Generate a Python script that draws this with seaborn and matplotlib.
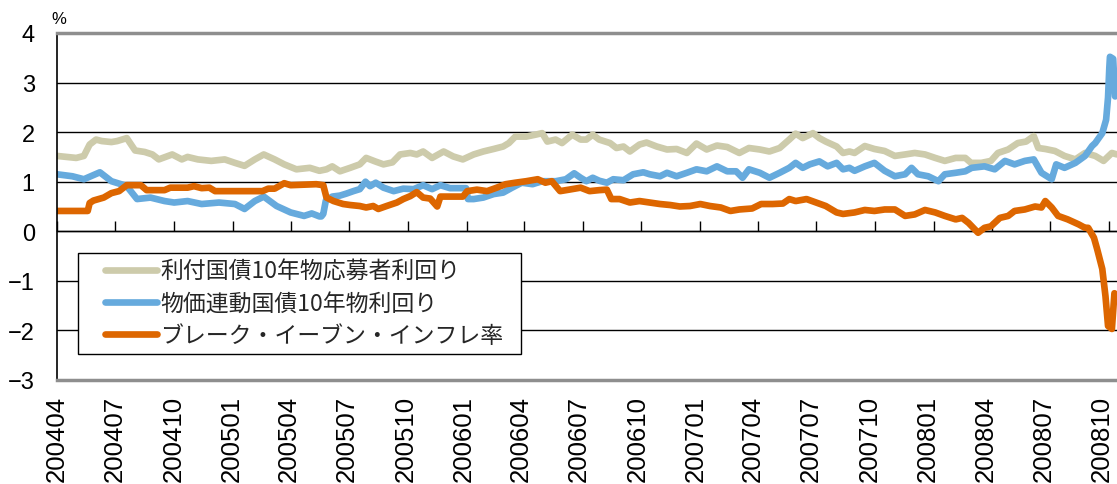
import matplotlib
matplotlib.use("Agg")
import matplotlib.pyplot as plt
import matplotlib.dates as mdates
from matplotlib.patches import Rectangle
from matplotlib.transforms import ScaledTranslation
import seaborn as sns
import pandas as pd

# ---------------- data ----------------
SERIES = ["利付国債10年物応募者利回り", "物価連動国債10年物利回り", "ブレーク・イーブン・インフレ率"]
COLORS = ["#CDCBAB", "#66AADD", "#DD6600"]

nominal_dates = [
    "2004-04-01", "2004-04-16", "2004-05-01", "2004-05-13", "2004-05-22", "2004-06-01", "2004-06-10",
    "2004-06-25", "2004-07-04", "2004-07-19", "2004-08-01", "2004-08-16", "2004-08-28", "2004-09-07",
    "2004-09-28", "2004-10-13", "2004-10-22", "2004-11-07", "2004-11-28", "2004-12-19", "2005-01-04",
    "2005-01-19", "2005-02-04", "2005-02-18", "2005-03-07", "2005-03-22", "2005-04-10", "2005-05-01",
    "2005-05-16", "2005-05-27", "2005-06-05", "2005-06-17", "2005-07-03", "2005-07-18", "2005-07-28",
    "2005-08-11", "2005-08-24", "2005-09-07", "2005-09-19", "2005-10-05", "2005-10-15", "2005-10-25",
    "2005-11-08", "2005-11-26", "2005-12-11", "2005-12-26", "2006-01-12", "2006-01-27", "2006-02-12",
    "2006-02-27", "2006-03-08", "2006-03-18", "2006-04-04", "2006-04-19", "2006-04-29", "2006-05-07",
    "2006-05-20", "2006-05-30", "2006-06-15", "2006-06-28", "2006-07-07", "2006-07-17", "2006-07-27",
    "2006-08-13", "2006-08-23", "2006-09-03", "2006-09-13", "2006-09-28", "2006-10-09", "2006-10-25",
    "2006-11-10", "2006-11-25", "2006-12-11", "2006-12-26", "2007-01-11", "2007-01-27", "2007-02-12",
    "2007-03-03", "2007-03-18", "2007-04-04", "2007-04-19", "2007-05-05", "2007-05-20", "2007-05-30",
    "2007-06-10", "2007-06-26", "2007-07-06", "2007-07-16", "2007-08-02", "2007-08-12", "2007-08-22",
    "2007-08-30", "2007-09-15", "2007-09-30", "2007-10-16", "2007-11-01", "2007-11-17", "2007-12-02",
    "2007-12-18", "2008-01-03", "2008-01-18", "2008-02-04", "2008-02-19", "2008-02-28", "2008-03-15",
    "2008-03-30", "2008-04-10", "2008-04-26", "2008-05-11", "2008-05-24", "2008-06-05", "2008-06-12",
    "2008-06-23", "2008-07-08", "2008-07-23", "2008-08-09", "2008-08-24", "2008-09-09", "2008-09-22",
    "2008-10-05", "2008-10-13",
]
nominal_yield = [
    1.52, 1.50, 1.48, 1.52, 1.75, 1.85, 1.82,
    1.80, 1.82, 1.88, 1.63, 1.60, 1.55, 1.45,
    1.55, 1.45, 1.50, 1.45, 1.42, 1.45, 1.38,
    1.32, 1.45, 1.55, 1.45, 1.35, 1.25, 1.28,
    1.22, 1.25, 1.31, 1.21, 1.28, 1.35, 1.48,
    1.41, 1.35, 1.39, 1.55, 1.58, 1.55, 1.61,
    1.48, 1.61, 1.51, 1.45, 1.55, 1.61, 1.66,
    1.71, 1.78, 1.91, 1.91, 1.95, 1.98, 1.81,
    1.85, 1.78, 1.95, 1.85, 1.85, 1.95, 1.85,
    1.78, 1.68, 1.71, 1.61, 1.75, 1.79, 1.71,
    1.65, 1.66, 1.58, 1.77, 1.65, 1.73, 1.70,
    1.58, 1.68, 1.65, 1.61, 1.68, 1.85, 1.97,
    1.88, 1.98, 1.88, 1.81, 1.71, 1.58, 1.61,
    1.58, 1.72, 1.66, 1.62, 1.52, 1.55, 1.58,
    1.55, 1.48, 1.42, 1.48, 1.48, 1.38, 1.38,
    1.42, 1.58, 1.65, 1.78, 1.81, 1.92, 1.68,
    1.66, 1.62, 1.52, 1.45, 1.58, 1.52, 1.42,
    1.58, 1.55,
]

linker_dates = [
    "2004-04-01", "2004-04-25", "2004-05-13", "2004-06-07", "2004-06-25", "2004-07-10", "2004-07-19",
    "2004-08-04", "2004-08-25", "2004-09-16", "2004-10-01", "2004-10-22", "2004-11-13", "2004-12-10",
    "2005-01-04", "2005-01-19", "2005-02-04", "2005-02-18", "2005-03-10", "2005-04-01", "2005-04-22",
    "2005-05-04", "2005-05-16", "2005-05-19", "2005-05-22", "2005-05-26", "2005-06-05", "2005-06-17",
    "2005-06-27", "2005-07-08", "2005-07-18", "2005-07-27", "2005-08-03", "2005-08-12", "2005-08-24",
    "2005-09-09", "2005-09-24", "2005-10-10", "2005-10-25", "2005-11-08", "2005-11-21", "2005-12-06",
    "2005-12-26", "2005-12-31", "2006-01-03", "2006-01-12", "2006-01-27", "2006-02-12", "2006-02-27",
    "2006-03-13", "2006-03-28", "2006-04-14", "2006-04-29", "2006-05-20", "2006-06-05", "2006-06-18",
    "2006-06-28", "2006-07-07", "2006-07-17", "2006-07-27", "2006-08-08", "2006-08-18", "2006-09-03",
    "2006-09-18", "2006-10-04", "2006-10-14", "2006-10-30", "2006-11-10", "2006-11-25", "2006-12-11",
    "2006-12-26", "2007-01-11", "2007-01-27", "2007-02-12", "2007-02-26", "2007-03-08", "2007-03-18",
    "2007-04-04", "2007-04-19", "2007-05-05", "2007-05-20", "2007-05-30", "2007-06-10", "2007-06-21",
    "2007-07-06", "2007-07-19", "2007-08-02", "2007-08-12", "2007-08-22", "2007-08-30", "2007-09-15",
    "2007-09-30", "2007-10-16", "2007-11-01", "2007-11-17", "2007-11-27", "2007-12-07", "2007-12-23",
    "2008-01-08", "2008-01-18", "2008-02-04", "2008-02-19", "2008-02-29", "2008-03-20", "2008-04-05",
    "2008-04-21", "2008-05-06", "2008-05-22", "2008-06-05", "2008-06-17", "2008-07-03", "2008-07-10",
    "2008-07-23", "2008-08-09", "2008-08-24", "2008-09-04", "2008-09-09", "2008-09-20", "2008-09-26",
    "2008-09-29", "2008-10-01", "2008-10-02", "2008-10-07", "2008-10-10", "2008-10-13",
]
linker_yield = [
    1.15, 1.11, 1.05, 1.19, 1.01, 0.95, 0.91,
    0.65, 0.68, 0.61, 0.58, 0.61, 0.55, 0.58,
    0.55, 0.45, 0.61, 0.70, 0.51, 0.38, 0.31,
    0.36, 0.30, 0.30, 0.35, 0.62, 0.70, 0.72,
    0.76, 0.81, 0.85, 1.00, 0.91, 0.98, 0.88,
    0.81, 0.86, 0.85, 0.93, 0.85, 0.93, 0.87,
    0.87, 0.87, 0.65, 0.65, 0.68, 0.75, 0.78,
    0.88, 0.98, 0.95, 1.01, 1.01, 1.05, 1.17,
    1.08, 1.01, 1.08, 1.02, 0.98, 1.05, 1.03,
    1.15, 1.19, 1.15, 1.11, 1.18, 1.11, 1.18,
    1.25, 1.21, 1.31, 1.21, 1.21, 1.08, 1.25,
    1.18, 1.08, 1.18, 1.28, 1.38, 1.28, 1.35,
    1.41, 1.31, 1.38, 1.25, 1.28, 1.22, 1.31,
    1.38, 1.22, 1.11, 1.15, 1.28, 1.15, 1.11,
    1.01, 1.15, 1.18, 1.21, 1.28, 1.31, 1.25,
    1.42, 1.35, 1.42, 1.45, 1.18, 1.05, 1.35,
    1.28, 1.38, 1.52, 1.72, 1.78, 1.98, 2.25,
    2.70, 3.30, 3.52, 3.48, 2.72, 2.80,
]

bei_dates = [
    "2004-04-01", "2004-05-19", "2004-05-22", "2004-05-28", "2004-06-13", "2004-06-25", "2004-07-07",
    "2004-07-19", "2004-08-10", "2004-08-19", "2004-09-16", "2004-09-25", "2004-10-22", "2004-11-01",
    "2004-11-13", "2004-11-25", "2004-12-04", "2005-02-16", "2005-02-25", "2005-03-07", "2005-03-22",
    "2005-04-01", "2005-05-11", "2005-05-22", "2005-05-27", "2005-06-07", "2005-06-22", "2005-07-03",
    "2005-07-18", "2005-07-28", "2005-08-08", "2005-08-16", "2005-08-29", "2005-09-14", "2005-09-24",
    "2005-10-05", "2005-10-15", "2005-10-25", "2005-11-05", "2005-11-16", "2005-11-21", "2005-12-26",
    "2006-01-02", "2006-01-17", "2006-02-02", "2006-02-17", "2006-03-03", "2006-03-18", "2006-04-04",
    "2006-04-22", "2006-05-04", "2006-05-14", "2006-05-27", "2006-06-10", "2006-06-28", "2006-07-12",
    "2006-07-27", "2006-08-08", "2006-08-15", "2006-08-28", "2006-09-13", "2006-09-28", "2006-10-14",
    "2006-10-30", "2006-11-15", "2006-11-30", "2006-12-16", "2007-01-01", "2007-01-16", "2007-02-02",
    "2007-02-17", "2007-03-03", "2007-03-23", "2007-04-06", "2007-04-24", "2007-05-10", "2007-05-20",
    "2007-05-30", "2007-06-16", "2007-07-01", "2007-07-16", "2007-08-02", "2007-08-12", "2007-08-30",
    "2007-09-15", "2007-09-30", "2007-10-16", "2007-11-01", "2007-11-17", "2007-12-02", "2007-12-18",
    "2008-01-03", "2008-01-18", "2008-02-04", "2008-02-14", "2008-02-24", "2008-03-10", "2008-03-20",
    "2008-03-30", "2008-04-13", "2008-04-26", "2008-05-06", "2008-05-22", "2008-06-07", "2008-06-17",
    "2008-06-23", "2008-07-03", "2008-07-13", "2008-07-28", "2008-08-14", "2008-08-24", "2008-08-29",
    "2008-09-07", "2008-09-12", "2008-09-20", "2008-09-25", "2008-09-29", "2008-10-05", "2008-10-09",
    "2008-10-13",
]
bei_rate = [
    0.41, 0.41, 0.57, 0.62, 0.68, 0.77, 0.81,
    0.93, 0.93, 0.83, 0.83, 0.88, 0.88, 0.91,
    0.87, 0.88, 0.81, 0.81, 0.86, 0.86, 0.97,
    0.93, 0.95, 0.93, 0.68, 0.61, 0.55, 0.53,
    0.51, 0.48, 0.51, 0.45, 0.51, 0.58, 0.65,
    0.71, 0.79, 0.68, 0.66, 0.50, 0.70, 0.70,
    0.81, 0.84, 0.81, 0.88, 0.95, 0.98, 1.01,
    1.05, 0.98, 1.01, 0.81, 0.84, 0.88, 0.81,
    0.83, 0.84, 0.65, 0.65, 0.58, 0.61, 0.58,
    0.55, 0.53, 0.50, 0.51, 0.55, 0.51, 0.48,
    0.41, 0.44, 0.46, 0.55, 0.55, 0.56, 0.65,
    0.61, 0.65, 0.58, 0.51, 0.38, 0.35, 0.38,
    0.43, 0.41, 0.44, 0.44, 0.31, 0.34, 0.43,
    0.38, 0.31, 0.24, 0.27, 0.17, -0.03, 0.07,
    0.10, 0.27, 0.31, 0.41, 0.44, 0.50, 0.48,
    0.61, 0.48, 0.31, 0.24, 0.14, 0.07, 0.07,
    -0.13, -0.36, -0.76, -1.31, -1.91, -1.97, -1.25,
    -1.40,
]

X_START, X_END = "2004-04-01", "2008-10-13"
Y_TICKS = [-3, -2, -1, 0, 1, 2, 3, 4]
UNIT = "%"

# ---------------- build frame ----------------
frames = []
for name, d, v in [(SERIES[0], nominal_dates, nominal_yield),
                   (SERIES[1], linker_dates, linker_yield),
                   (SERIES[2], bei_dates, bei_rate)]:
    frames.append(pd.DataFrame({"date": pd.to_datetime(d), "value": v, "series": name}))
df = pd.concat(frames, ignore_index=True)

# ---------------- style ----------------
sns.set_theme(style="white")
plt.rcParams["font.family"] = ["Liberation Sans", "Noto Sans CJK JP", "DejaVu Sans"]
plt.rcParams["axes.unicode_minus"] = True

W, H = 1117, 485
fig = plt.figure(figsize=(W / 100, H / 100), dpi=100)
AX_L, AX_R, AX_T, AX_B = 57, W, 34, 381          # axes box in pixels
ax = fig.add_axes([AX_L / W, 1 - AX_B / H, (AX_R - AX_L) / W, (AX_B - AX_T) / H])


def ax_x(px):
    return (px - AX_L) / (AX_R - AX_L)


def ax_y(py):
    return (AX_B - py) / (AX_B - AX_T)


sns.lineplot(data=df, x="date", y="value", hue="series", hue_order=SERIES,
             palette=COLORS, linewidth=4.8, estimator=None, sort=False,
             legend=False, ax=ax)
for ln in ax.get_lines():
    ln.set_solid_joinstyle("round")
    ln.set_solid_capstyle("round")

ax.set_xlim(pd.Timestamp(X_START), pd.Timestamp(X_END))
ax.set_ylim(Y_TICKS[0], Y_TICKS[-1])
ax.set_xlabel("")
ax.set_ylabel("")

# grid
ax.set_yticks(Y_TICKS, labels=[str(v).replace("-", "\u2212") for v in Y_TICKS])
ax.yaxis.grid(True, color="black", linewidth=1.0)
ax.xaxis.grid(False)
ax.set_axisbelow(True)

# spines
ax.spines["right"].set_visible(False)
ax.spines["left"].set_color("black")
ax.spines["left"].set_linewidth(1.2)
for s in ("top", "bottom"):
    ax.spines[s].set_color("#8E8E8E")
    ax.spines[s].set_linewidth(2.5)

ax.tick_params(axis="y", direction="in", length=7, width=1, color="black",
               labelsize=17, pad=16, labelcolor="black")

# x tick labels at bottom
tick_dates = pd.date_range("2004-04-01", "2008-10-01", freq="3MS")
ax.set_xticks(tick_dates, labels=[d.strftime("%Y%m") for d in tick_dates])
ax.tick_params(axis="x", length=0, labelsize=18.5, pad=11, labelrotation=90, labelcolor="black")
for i, lbl in enumerate(ax.get_xticklabels()):
    lbl.set_transform(lbl.get_transform() + ScaledTranslation(-i * 0.4 / 100, 0, fig.dpi_scale_trans))

# tick marks on the zero line
sec = ax.secondary_xaxis((0 - Y_TICKS[0]) / (Y_TICKS[-1] - Y_TICKS[0]))
sec.set_xticks(mdates.date2num(tick_dates), labels=[""] * len(tick_dates))
sec.tick_params(axis="x", direction="in", length=7, width=1, color="black", labelbottom=False)
sec.spines["bottom"].set_color("black")
sec.spines["bottom"].set_linewidth(1.0)

# legend: frame box + entries
LEG_FS = 16.5
frame = Rectangle((ax_x(78), ax_y(355)), ax_x(521) - ax_x(78), ax_y(254) - ax_y(355),
                  transform=ax.transAxes, facecolor="white", edgecolor="black",
                  linewidth=1.0, zorder=5)
ax.add_patch(frame)
handles = ax.get_lines()[:3]
leg = ax.legend(handles, SERIES, loc="upper left",
                bbox_to_anchor=(ax_x(105), ax_y(261)),
                borderaxespad=0, borderpad=0, frameon=False,
                handlelength=52 / (LEG_FS * 100 / 72), handletextpad=0.15,
                labelspacing=0.40,
                prop={"family": ["Noto Sans CJK JP"], "size": LEG_FS})
leg.set_zorder(6)

fig.text(59 / W, 1 - 20 / H, UNIT, ha="center", va="center", fontsize=12, color="black")

fig.savefig("out.png", dpi=100)
